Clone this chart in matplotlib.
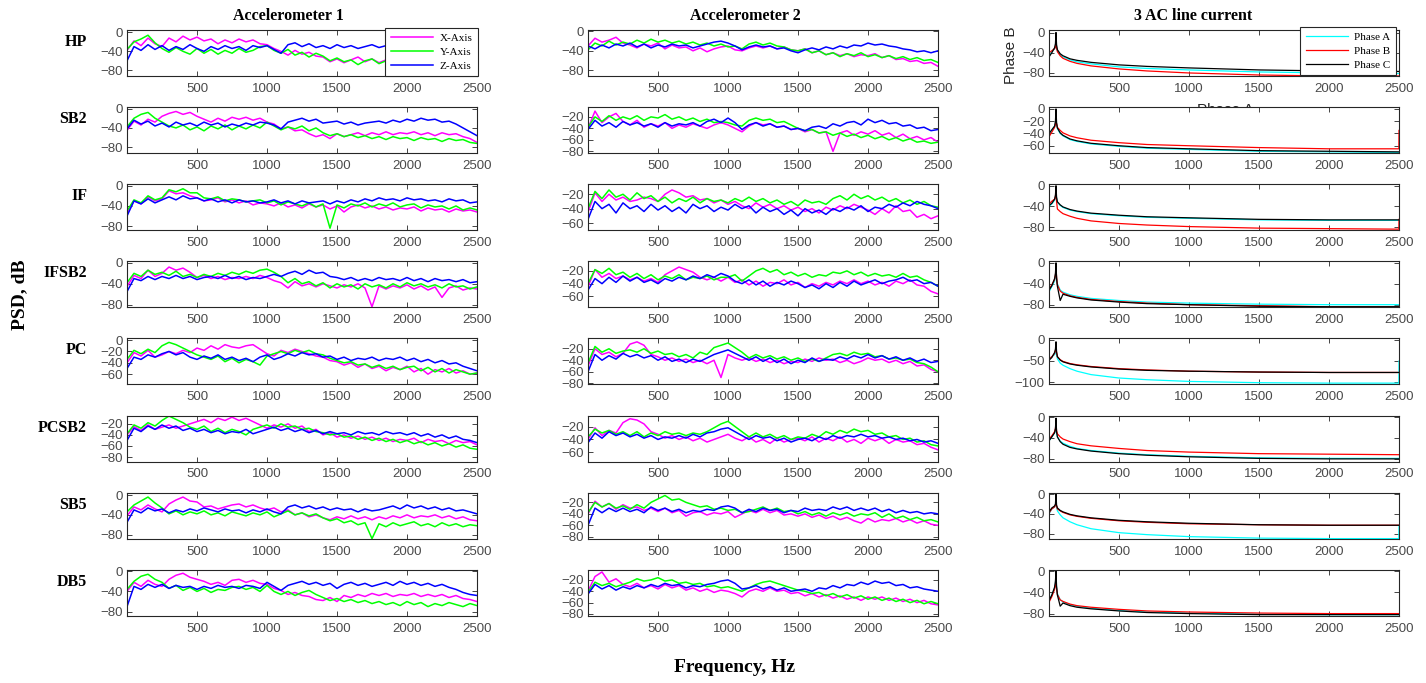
import numpy as np
import matplotlib
matplotlib.use("Agg")
import matplotlib.pyplot as plt

# ---------------- data ----------------
ROWS = ["HP", "SB2", "IF", "IFSB2", "PC", "PCSB2", "SB5", "DB5"]
COL_TITLES = ["Accelerometer 1", "Accelerometer 2", "3 AC line current"]
ACC_LABELS = ["X-Axis", "Y-Axis", "Z-Axis"]
CUR_LABELS = ["Phase A", "Phase B", "Phase C"]
X_TICKS = [500, 1000, 1500, 2000, 2500]

# Accelerometer 1 (PSD in dB, every 50 Hz from 0 to 2500 Hz)
A1_HP_X = [-38,-18,-28,-12,-24,-30,-12,-20,-8,-16,-10,-18,-14,-24,-16,-22,-14,-20,-16,-24,-26,-34,-40,-48,-38,-46,-42,-50,-52,-62,-56,-64,-58,-52,-62,-56,-64,-58,-54,-62,-58,-52,-62,-56,-64,-58,-62,-56,-64,-60,-66]
A1_HP_Y = [-36,-20,-14,-6,-22,-34,-42,-32,-40,-46,-34,-44,-36,-46,-38,-44,-34,-42,-38,-30,-28,-38,-44,-36,-48,-42,-52,-44,-50,-60,-54,-62,-58,-68,-60,-56,-66,-60,-64,-58,-70,-62,-66,-60,-70,-64,-68,-62,-72,-66,-70]
A1_HP_Z = [-60,-30,-38,-26,-36,-28,-38,-30,-36,-26,-34,-40,-30,-36,-28,-34,-30,-38,-28,-32,-28,-36,-44,-26,-22,-30,-24,-32,-28,-34,-26,-32,-28,-34,-30,-26,-32,-28,-34,-30,-26,-32,-28,-34,-30,-36,-32,-38,-34,-36,-32]

A1_SB2_X = [-45,-26,-34,-22,-28,-16,-10,-6,-12,-8,-16,-22,-28,-20,-26,-18,-22,-18,-24,-20,-28,-32,-42,-38,-46,-44,-52,-58,-54,-62,-52,-58,-54,-50,-56,-50,-54,-48,-54,-50,-52,-48,-54,-50,-56,-50,-54,-52,-58,-62,-70]
A1_SB2_Y = [-38,-20,-12,-8,-20,-28,-36,-40,-34,-44,-38,-46,-36,-42,-34,-44,-36,-42,-34,-40,-28,-36,-44,-38,-42,-36,-46,-40,-50,-56,-52,-58,-54,-60,-56,-62,-58,-64,-58,-62,-60,-66,-60,-64,-62,-68,-62,-66,-64,-70,-72]
A1_SB2_Z = [-42,-24,-32,-26,-36,-30,-38,-28,-34,-30,-36,-28,-34,-30,-38,-32,-36,-30,-34,-28,-30,-34,-42,-28,-24,-20,-26,-22,-30,-28,-26,-32,-28,-34,-30,-28,-26,-30,-24,-28,-22,-26,-20,-24,-22,-28,-26,-32,-40,-48,-56]

A1_IF_X = [-55,-30,-36,-22,-30,-26,-10,-16,-14,-20,-24,-30,-28,-24,-32,-28,-34,-30,-38,-34,-36,-40,-34,-42,-38,-44,-36,-42,-38,-46,-40,-52,-42,-38,-44,-40,-46,-42,-48,-44,-46,-42,-50,-44,-48,-46,-52,-46,-50,-48,-52]
A1_IF_Y = [-50,-28,-34,-20,-28,-24,-8,-12,-6,-14,-14,-24,-26,-22,-30,-26,-28,-32,-30,-28,-34,-30,-38,-32,-36,-40,-34,-42,-36,-84,-38,-44,-36,-40,-34,-42,-36,-40,-34,-42,-38,-36,-44,-38,-42,-40,-46,-40,-48,-44,-48]
A1_IF_Z = [-60,-30,-36,-26,-34,-28,-22,-28,-20,-26,-24,-30,-26,-32,-28,-34,-28,-32,-30,-34,-32,-28,-34,-30,-36,-30,-34,-32,-30,-36,-30,-34,-28,-32,-26,-30,-24,-28,-26,-30,-24,-28,-26,-30,-28,-32,-26,-30,-28,-34,-32]

A1_IFSB2_X = [-45,-24,-30,-14,-26,-20,-8,-14,-10,-18,-28,-24,-30,-26,-32,-28,-30,-26,-30,-24,-28,-34,-38,-48,-36,-44,-40,-46,-40,-44,-48,-42,-46,-40,-48,-84,-44,-50,-44,-48,-42,-50,-44,-52,-46,-66,-48,-44,-52,-48,-50]
A1_IFSB2_Y = [-38,-20,-26,-14,-22,-18,-24,-16,-26,-22,-28,-22,-26,-20,-24,-18,-22,-16,-20,-14,-12,-18,-26,-38,-30,-40,-36,-44,-38,-48,-40,-46,-42,-50,-40,-46,-42,-48,-40,-46,-38,-44,-40,-46,-42,-48,-40,-46,-44,-50,-46]
A1_IFSB2_Z = [-55,-30,-34,-26,-32,-26,-30,-24,-30,-26,-32,-28,-26,-30,-24,-30,-26,-32,-28,-30,-26,-22,-26,-20,-16,-22,-14,-20,-18,-26,-28,-32,-28,-34,-30,-34,-28,-32,-30,-34,-28,-34,-30,-36,-30,-34,-32,-36,-32,-38,-36]

A1_PC_X = [-40,-22,-28,-18,-30,-26,-20,-24,-18,-22,-14,-18,-10,-16,-8,-12,-14,-10,-8,-16,-24,-28,-18,-22,-16,-20,-24,-28,-30,-36,-38,-44,-40,-48,-42,-50,-46,-54,-48,-52,-46,-56,-50,-60,-52,-56,-50,-58,-54,-60,-58]
A1_PC_Y = [-34,-18,-24,-16,-22,-10,-4,-8,-14,-20,-26,-30,-34,-28,-38,-32,-40,-34,-38,-44,-28,-24,-20,-24,-18,-22,-18,-24,-26,-32,-36,-40,-38,-44,-42,-48,-44,-50,-46,-52,-48,-46,-54,-48,-56,-50,-58,-52,-56,-60,-58]
A1_PC_Z = [-50,-30,-34,-26,-30,-24,-20,-26,-22,-30,-34,-28,-32,-26,-34,-30,-36,-32,-38,-30,-26,-34,-30,-24,-28,-22,-26,-24,-30,-28,-34,-30,-36,-32,-34,-30,-36,-32,-34,-30,-36,-32,-38,-34,-40,-36,-42,-40,-46,-50,-54]

A1_PCSB2_X = [-40,-25,-32,-22,-30,-26,-22,-28,-24,-20,-16,-12,-18,-10,-14,-8,-14,-10,-16,-22,-28,-22,-26,-20,-28,-24,-34,-30,-40,-36,-44,-40,-46,-42,-48,-44,-50,-46,-52,-48,-50,-46,-54,-48,-52,-50,-56,-50,-54,-52,-58]
A1_PCSB2_Y = [-38,-22,-28,-18,-24,-14,-6,-12,-18,-26,-30,-24,-34,-28,-36,-30,-34,-40,-30,-26,-22,-28,-20,-26,-24,-30,-28,-34,-36,-40,-38,-44,-42,-48,-44,-50,-46,-52,-48,-54,-50,-56,-52,-58,-54,-60,-56,-62,-58,-64,-66]
A1_PCSB2_Z = [-50,-28,-34,-24,-30,-22,-28,-24,-32,-28,-34,-30,-36,-32,-38,-34,-36,-30,-38,-34,-30,-26,-32,-28,-34,-30,-36,-32,-38,-34,-38,-36,-40,-34,-38,-36,-40,-34,-38,-36,-40,-36,-42,-38,-44,-40,-46,-42,-48,-50,-54]

A1_SB5_X = [-42,-24,-30,-20,-28,-34,-18,-10,-4,-12,-14,-24,-22,-28,-24,-20,-18,-24,-20,-26,-30,-26,-34,-30,-40,-36,-44,-40,-46,-50,-44,-48,-42,-48,-44,-50,-44,-48,-42,-46,-40,-46,-42,-44,-40,-46,-42,-48,-44,-50,-52]
A1_SB5_Y = [-34,-20,-12,-4,-16,-26,-38,-32,-40,-34,-38,-32,-40,-36,-42,-34,-38,-42,-36,-40,-34,-44,-38,-32,-40,-36,-42,-38,-46,-52,-48,-56,-52,-60,-56,-88,-58,-64,-56,-62,-58,-54,-62,-58,-64,-56,-62,-58,-64,-60,-62]
A1_SB5_Z = [-55,-30,-36,-26,-32,-28,-36,-30,-34,-28,-32,-26,-30,-34,-28,-32,-30,-36,-30,-34,-28,-34,-38,-24,-20,-26,-22,-28,-24,-30,-26,-30,-28,-34,-28,-32,-30,-26,-22,-28,-20,-26,-22,-28,-24,-30,-26,-32,-30,-34,-38]

A1_DB5_X = [-40,-22,-30,-18,-26,-30,-16,-8,-4,-12,-16,-20,-26,-22,-28,-18,-16,-22,-18,-24,-26,-34,-38,-46,-42,-48,-50,-56,-58,-52,-60,-48,-52,-46,-50,-44,-48,-44,-50,-46,-48,-44,-50,-46,-50,-46,-52,-48,-54,-56,-60]
A1_DB5_Y = [-36,-20,-10,-6,-16,-22,-34,-28,-38,-32,-40,-34,-42,-36,-38,-32,-30,-36,-32,-40,-28,-40,-46,-40,-48,-42,-38,-46,-52,-58,-54,-60,-56,-62,-58,-64,-60,-66,-62,-68,-60,-66,-62,-70,-64,-68,-62,-66,-70,-64,-68]
A1_DB5_Z = [-70,-30,-36,-26,-32,-26,-34,-28,-32,-30,-36,-30,-34,-28,-32,-30,-34,-28,-30,-34,-22,-30,-38,-28,-24,-20,-26,-22,-28,-24,-34,-26,-22,-28,-24,-30,-26,-22,-28,-20,-26,-22,-28,-24,-30,-26,-32,-36,-42,-46,-48]

# Accelerometer 2
A2_HP_X = [-30,-14,-22,-18,-12,-24,-28,-34,-26,-30,-24,-36,-28,-34,-32,-40,-34,-42,-36,-32,-30,-38,-40,-34,-30,-34,-30,-36,-32,-38,-40,-36,-44,-40,-48,-44,-50,-46,-52,-48,-50,-46,-54,-50,-58,-56,-62,-60,-66,-64,-72]
A2_HP_Y = [-38,-24,-30,-20,-28,-22,-26,-18,-24,-16,-22,-18,-24,-20,-26,-22,-28,-24,-30,-26,-32,-30,-36,-26,-22,-28,-24,-30,-32,-38,-40,-36,-44,-40,-48,-44,-52,-46,-50,-44,-52,-48,-54,-50,-56,-52,-58,-54,-60,-58,-64]
A2_HP_Z = [-30,-36,-28,-34,-26,-30,-24,-32,-26,-34,-28,-32,-26,-30,-28,-34,-30,-26,-22,-20,-24,-30,-38,-32,-28,-32,-30,-36,-34,-40,-44,-38,-34,-38,-32,-36,-30,-34,-28,-30,-24,-28,-26,-30,-32,-36,-38,-42,-40,-44,-40]

A2_SB2_X = [-40,-10,-30,-20,-14,-28,-34,-26,-38,-32,-36,-30,-40,-34,-38,-32,-36,-40,-34,-30,-34,-40,-46,-36,-30,-34,-32,-38,-36,-42,-40,-46,-42,-48,-46,-80,-48,-44,-52,-46,-50,-44,-52,-48,-56,-50,-58,-54,-60,-56,-64]
A2_SB2_Y = [-38,-20,-28,-18,-26,-20,-24,-18,-26,-20,-22,-16,-24,-20,-26,-22,-28,-24,-30,-28,-30,-34,-36,-26,-22,-26,-24,-30,-28,-34,-40,-44,-42,-48,-46,-52,-48,-54,-50,-56,-52,-58,-54,-60,-56,-62,-58,-64,-62,-66,-64]
A2_SB2_Z = [-42,-26,-36,-30,-38,-28,-34,-30,-36,-32,-38,-30,-36,-32,-34,-30,-36,-28,-24,-30,-22,-30,-42,-34,-30,-36,-32,-38,-36,-42,-40,-44,-38,-36,-40,-32,-36,-30,-28,-34,-24,-30,-26,-32,-30,-36,-34,-40,-38,-44,-42]

A2_IF_X = [-45,-18,-30,-20,-28,-24,-30,-28,-24,-26,-30,-20,-14,-18,-24,-22,-28,-26,-32,-28,-34,-30,-36,-40,-32,-38,-34,-40,-36,-42,-38,-44,-40,-46,-38,-42,-36,-40,-34,-38,-42,-48,-40,-46,-36,-44,-42,-52,-48,-54,-50]
A2_IF_Y = [-40,-16,-26,-14,-24,-20,-28,-18,-26,-22,-30,-24,-32,-26,-30,-24,-32,-26,-30,-28,-32,-26,-30,-24,-30,-26,-32,-28,-34,-30,-36,-28,-32,-30,-34,-26,-22,-28,-20,-26,-22,-28,-24,-30,-26,-32,-28,-34,-30,-36,-38]
A2_IF_Z = [-55,-30,-40,-34,-46,-32,-40,-36,-44,-34,-42,-36,-44,-38,-46,-34,-40,-36,-44,-38,-42,-34,-40,-36,-46,-38,-44,-40,-48,-42,-50,-40,-46,-42,-48,-40,-44,-38,-42,-36,-44,-38,-40,-34,-38,-32,-36,-30,-34,-36,-40]

A2_IFSB2_X = [-45,-18,-30,-24,-32,-28,-34,-30,-36,-32,-38,-26,-20,-14,-18,-22,-30,-34,-30,-36,-30,-38,-34,-42,-36,-44,-38,-40,-34,-42,-38,-46,-40,-44,-38,-42,-36,-40,-34,-40,-36,-42,-38,-44,-36,-40,-34,-42,-44,-52,-56]
A2_IFSB2_Y = [-40,-18,-24,-16,-26,-22,-30,-24,-32,-26,-34,-28,-32,-26,-34,-30,-32,-28,-34,-30,-30,-26,-36,-28,-20,-16,-22,-18,-26,-22,-28,-24,-30,-26,-28,-22,-24,-20,-26,-22,-28,-24,-28,-26,-30,-24,-30,-28,-34,-38,-44]
A2_IFSB2_Z = [-50,-32,-40,-30,-38,-28,-36,-30,-38,-34,-40,-32,-36,-30,-34,-28,-32,-26,-30,-24,-28,-36,-40,-34,-42,-36,-44,-38,-42,-36,-40,-46,-42,-48,-40,-46,-38,-44,-36,-42,-38,-34,-40,-36,-34,-30,-36,-34,-40,-38,-44]

A2_PC_X = [-50,-20,-30,-26,-34,-28,-12,-8,-14,-30,-34,-40,-36,-42,-38,-44,-40,-46,-40,-70,-30,-36,-40,-36,-42,-38,-44,-40,-46,-42,-44,-38,-42,-36,-40,-38,-44,-40,-46,-42,-36,-40,-38,-44,-40,-46,-42,-50,-48,-56,-60]
A2_PC_Y = [-45,-16,-26,-20,-28,-24,-22,-26,-20,-28,-24,-30,-28,-34,-30,-36,-26,-30,-18,-14,-10,-18,-26,-36,-30,-36,-32,-38,-34,-40,-36,-42,-38,-42,-36,-30,-28,-32,-26,-30,-28,-34,-32,-38,-36,-40,-38,-44,-46,-52,-60]
A2_PC_Z = [-60,-30,-40,-32,-38,-28,-34,-30,-36,-32,-40,-34,-42,-38,-44,-38,-42,-36,-30,-26,-22,-28,-34,-40,-34,-42,-36,-44,-38,-46,-40,-44,-36,-42,-38,-40,-34,-38,-32,-36,-30,-36,-32,-38,-34,-40,-36,-42,-38,-44,-42]

A2_PCSB2_X = [-40,-22,-34,-26,-30,-14,-8,-10,-16,-28,-32,-38,-34,-40,-36,-42,-38,-44,-40,-36,-32,-38,-42,-36,-44,-40,-46,-38,-44,-40,-38,-42,-36,-44,-38,-42,-36,-44,-40,-46,-38,-42,-38,-46,-40,-44,-42,-48,-46,-52,-56]
A2_PCSB2_Y = [-36,-24,-30,-26,-32,-28,-34,-28,-36,-30,-34,-28,-32,-30,-34,-30,-32,-28,-22,-16,-12,-20,-28,-36,-30,-36,-32,-38,-34,-40,-36,-38,-32,-36,-28,-32,-26,-30,-24,-28,-26,-32,-30,-36,-34,-40,-38,-44,-42,-48,-50]
A2_PCSB2_Z = [-45,-30,-38,-28,-34,-30,-36,-32,-38,-34,-40,-36,-38,-34,-38,-32,-36,-30,-28,-24,-22,-28,-34,-40,-34,-38,-36,-42,-38,-44,-40,-38,-42,-36,-40,-34,-38,-34,-36,-32,-36,-34,-38,-36,-40,-38,-42,-40,-44,-42,-46]

A2_SB5_X = [-40,-18,-28,-22,-32,-24,-30,-28,-34,-30,-36,-30,-38,-34,-44,-38,-36,-42,-38,-40,-36,-46,-40,-34,-38,-32,-38,-34,-42,-40,-44,-40,-46,-42,-48,-44,-50,-46,-52,-56,-48,-54,-50,-52,-48,-54,-50,-56,-52,-58,-60]
A2_SB5_Y = [-38,-20,-28,-22,-30,-26,-32,-24,-30,-20,-14,-8,-16,-14,-20,-24,-28,-26,-32,-30,-34,-32,-38,-36,-32,-28,-34,-30,-36,-34,-40,-36,-42,-38,-44,-38,-42,-38,-44,-40,-42,-38,-46,-40,-48,-44,-50,-46,-52,-50,-54]
A2_SB5_Z = [-60,-30,-38,-30,-36,-30,-36,-32,-38,-28,-34,-30,-36,-32,-38,-34,-36,-32,-34,-28,-26,-30,-38,-32,-36,-30,-34,-32,-38,-34,-36,-30,-34,-32,-34,-28,-32,-28,-34,-30,-34,-30,-36,-32,-38,-34,-38,-36,-40,-38,-40]

A2_DB5_X = [-40,-14,-6,-24,-18,-28,-32,-26,-34,-30,-36,-28,-34,-30,-38,-34,-40,-36,-42,-38,-40,-44,-50,-40,-36,-40,-34,-40,-38,-44,-42,-48,-44,-50,-46,-52,-48,-54,-50,-56,-50,-54,-50,-56,-52,-58,-54,-60,-56,-62,-64]
A2_DB5_Y = [-42,-24,-30,-26,-32,-28,-24,-18,-22,-20,-16,-22,-20,-26,-24,-28,-26,-32,-30,-34,-32,-36,-40,-34,-28,-24,-22,-26,-30,-34,-38,-40,-44,-42,-48,-44,-50,-46,-52,-48,-54,-50,-56,-52,-58,-54,-60,-56,-62,-58,-62]
A2_DB5_Z = [-45,-28,-36,-30,-38,-32,-36,-30,-34,-28,-32,-26,-30,-28,-34,-30,-32,-28,-26,-22,-20,-26,-36,-34,-30,-36,-32,-38,-34,-40,-38,-36,-40,-34,-36,-30,-34,-28,-30,-24,-28,-22,-26,-24,-30,-28,-34,-32,-36,-38,-40]

# 3 AC line current: frequencies (Hz) and PSD (dB)
CUR_FREQ = [1, 20, 40, 46, 50, 54, 60, 80, 100, 150, 200, 300, 500, 700, 1000, 1500, 2000, 2499, 2500]
C_HP_A = [-45,-38,-32,-28,-12,-30,-36,-44,-48,-54,-58,-62,-68,-71,-74,-78,-80,-81,-81]
C_HP_B = [-40,-36,-32,-28,-24,-30,-38,-46,-51,-57,-61,-66,-72,-76,-80,-84,-86,-86,-86]
C_HP_C = [-48,-40,-30,-22,0,-24,-34,-42,-46,-52,-55,-59,-64,-67,-70,-74,-76,-77,-77]
C_SB2_A = [-40,-35,-28,-24,-15,-26,-32,-40,-44,-50,-53,-57,-61,-64,-66,-69,-70,-71,-71]
C_SB2_B = [-45,-38,-30,-25,-20,-24,-30,-35,-39,-44,-47,-51,-55,-58,-60,-63,-65,-65,-35]
C_SB2_C = [-40,-34,-28,-20,0,-22,-31,-39,-43,-49,-52,-56,-60,-63,-65,-68,-69,-70,-70]
C_IF_A = [-40,-35,-28,-22,-15,-24,-32,-38,-42,-47,-50,-54,-58,-61,-63,-66,-67,-67,-67]
C_IF_B = [-35,-30,-26,-22,-5,-30,-45,-50,-54,-59,-63,-68,-73,-76,-79,-82,-83,-84,-65]
C_IF_C = [-38,-34,-26,-18,0,-22,-31,-37,-41,-46,-49,-53,-57,-60,-62,-65,-66,-66,-66]
C_IFSB2_A = [-55,-45,-35,-26,-12,-28,-40,-52,-56,-61,-64,-68,-72,-75,-77,-79,-80,-80,-80]
C_IFSB2_B = [-50,-42,-32,-24,-8,-26,-42,-54,-58,-63,-66,-70,-74,-77,-80,-82,-84,-84,-84]
C_IFSB2_C = [-52,-44,-30,-20,0,-30,-45,-72,-60,-64,-67,-71,-75,-78,-80,-83,-84,-84,-84]
C_PC_A = [-45,-40,-35,-32,-28,-35,-45,-55,-60,-68,-74,-82,-90,-94,-98,-101,-102,-102,-50]
C_PC_B = [-45,-40,-32,-26,-20,-30,-40,-47,-51,-56,-59,-63,-68,-71,-74,-76,-77,-77,-77]
C_PC_C = [-48,-42,-30,-22,-5,-28,-40,-48,-52,-57,-60,-64,-69,-72,-74,-76,-77,-77,-77]
C_PCSB2_A = [-45,-38,-30,-25,-15,-30,-38,-46,-50,-56,-60,-64,-69,-72,-75,-78,-79,-79,-79]
C_PCSB2_B = [-42,-36,-28,-22,-12,-26,-32,-38,-42,-47,-51,-55,-60,-64,-67,-70,-71,-72,-72]
C_PCSB2_C = [-45,-38,-30,-22,-2,-28,-38,-47,-52,-58,-61,-65,-70,-73,-76,-79,-80,-80,-80]
C_SB5_A = [-40,-30,-26,-22,-18,-26,-34,-42,-48,-56,-62,-70,-78,-82,-86,-89,-90,-90,-65]
C_SB5_B = [-38,-30,-26,-22,-20,-24,-30,-34,-37,-42,-45,-49,-54,-57,-60,-62,-63,-63,-63]
C_SB5_C = [-36,-28,-24,-20,0,-22,-28,-33,-36,-41,-44,-48,-53,-56,-59,-62,-63,-63,-63]
C_DB5_A = [-55,-45,-32,-25,-14,-30,-42,-54,-58,-63,-66,-70,-74,-77,-79,-81,-82,-82,-82]
C_DB5_B = [-58,-48,-34,-26,-22,-32,-44,-54,-57,-62,-65,-68,-72,-75,-77,-79,-80,-80,-80]
C_DB5_C = [-55,-45,-30,-18,0,-28,-45,-66,-60,-65,-68,-71,-75,-78,-80,-82,-82,-82,-82]

# y-axis ticks / limits per panel (column order: Acc1, Acc2, Current)
YT_A = [0, -40, -80]
YT_B = [0, -20, -40, -60]
YT_C = [-20, -40, -60, -80]
YT_D = [-20, -40, -60]
YT_E = [0, -50, -100]
YTICKS = [
    [YT_A, YT_A, YT_A],
    [YT_A, YT_C, YT_B],
    [YT_A, YT_D, YT_A],
    [YT_A, YT_D, YT_A],
    [YT_B, YT_C, YT_E],
    [YT_C, YT_D, YT_A],
    [YT_A, YT_C, YT_A],
    [YT_A, YT_C, YT_A],
]
YLIMS = [
    [(-92, 5), (-92, 3), (-86, 5)],
    [(-92, 3), (-83, -3), (-72, 3)],
    [(-88, 3), (-70, -6), (-86, 3)],
    [(-85, 3), (-77, -5), (-85, 3)],
    [(-78, 3), (-82, -2), (-105, 3)],
    [(-88, -5), (-74, -3), (-85, 3)],
    [(-88, 5), (-83, -3), (-90, 3)],
    [(-88, 3), (-83, -2), (-84, 3)],
]

# ---------------- tables built from the named lists ----------------
G = globals()
ACC1 = [[G[f"A1_{r}_{a}"] for a in "XYZ"] for r in ROWS]
ACC2 = [[G[f"A2_{r}_{a}"] for a in "XYZ"] for r in ROWS]
CUR = [[G[f"C_{r}_{p}"] for p in "ABC"] for r in ROWS]

ACC_COLORS = ["#FF00FF", "#00FF00", "#0000FF"]
CUR_COLORS = ["#00FFFF", "#FF0000", "#000000"]

W, H = 1426, 683
fig = plt.figure(figsize=(W / 100, H / 100), dpi=100)
fig.patch.set_facecolor("white")

SERIF = "Liberation Serif"
SANS = "Liberation Sans"
TICK_COLOR = "#4a4a4a"

col_left = [127, 588, 1049]
ax_w = 350
ax_h = 46
row_top0 = 30
row_step = 77.1


def px_rect(left, top, w, h):
    return [left / W, 1 - (top + h) / H, w / W, h / H]


axes_grid = []
for r, row in enumerate(ROWS):
    top = row_top0 + r * row_step
    axrow = []
    for c in range(3):
        ax = fig.add_axes(px_rect(col_left[c], top, ax_w, ax_h))
        if c < 2:
            data = (ACC1 if c == 0 else ACC2)[r]
            for vals, col, lab in zip(data, ACC_COLORS, ACC_LABELS):
                x = np.linspace(0, 2500, len(vals))
                ax.plot(x, vals, color=col, lw=1.1, label=lab)
        else:
            for vals, col, lab in zip(CUR[r], CUR_COLORS, CUR_LABELS):
                ax.plot(CUR_FREQ, vals, color=col, lw=0.9, label=lab)
        ax.set_xlim(0, 2500)
        ax.set_ylim(*YLIMS[r][c])
        ax.set_xticks(X_TICKS)
        ax.set_yticks(YTICKS[r][c])
        ax.tick_params(direction="in", length=3.5, width=0.6, top=True, right=True,
                       labelsize=9.5, labelcolor=TICK_COLOR, color="#262626")
        ax.tick_params(axis="x", pad=5)
        ax.tick_params(axis="y", pad=3)
        for lbl in ax.get_xticklabels() + ax.get_yticklabels():
            lbl.set_fontfamily(SANS)
        for sp in ax.spines.values():
            sp.set_linewidth(0.8)
            sp.set_color("#262626")
        axrow.append(ax)
    axes_grid.append(axrow)
    fig.text(87 / W, 1 - (top + 12) / H, row, ha="right", va="center",
             fontsize=11.5, fontweight="bold", family=SERIF)

# legends
leg_kw = dict(loc="upper left", bbox_transform=fig.transFigure,
              prop={"family": SERIF, "size": 8}, handlelength=3.8, borderpad=0.5,
              labelspacing=0.35, handletextpad=0.6, borderaxespad=0, fancybox=False,
              framealpha=1, edgecolor="#262626")
leg1 = axes_grid[0][0].legend(bbox_to_anchor=(385 / W, 1 - 28 / H), **leg_kw)
leg1.get_frame().set_linewidth(0.8)
leg3 = axes_grid[0][2].legend(bbox_to_anchor=(1300 / W, 1 - 27 / H), **leg_kw)
leg3.get_frame().set_linewidth(0.8)

# column titles
for x, t in zip([288, 745, 1193], COL_TITLES):
    fig.text(x / W, 1 - 16 / H, t, ha="center", va="center", fontsize=11.5,
             fontweight="bold", family=SERIF)

# stray panel labels
fig.text(1011 / W, 1 - 55 / H, "Phase B", rotation=90, ha="center", va="center",
         fontsize=11, family=SANS, color="#262626")
fig.text(1225 / W, 1 - 110 / H, "Phase A", ha="center", va="center",
         fontsize=11, family=SANS, color="#262626", zorder=-1)

# global axis labels
fig.text(20 / W, 1 - 295 / H, "PSD, dB", rotation=90, ha="center", va="center",
         fontsize=14, fontweight="bold", family=SERIF)
fig.text(735 / W, 1 - 668 / H, "Frequency, Hz", ha="center", va="center",
         fontsize=14, fontweight="bold", family=SERIF)

fig.savefig("out.png", dpi=100, facecolor="white")
